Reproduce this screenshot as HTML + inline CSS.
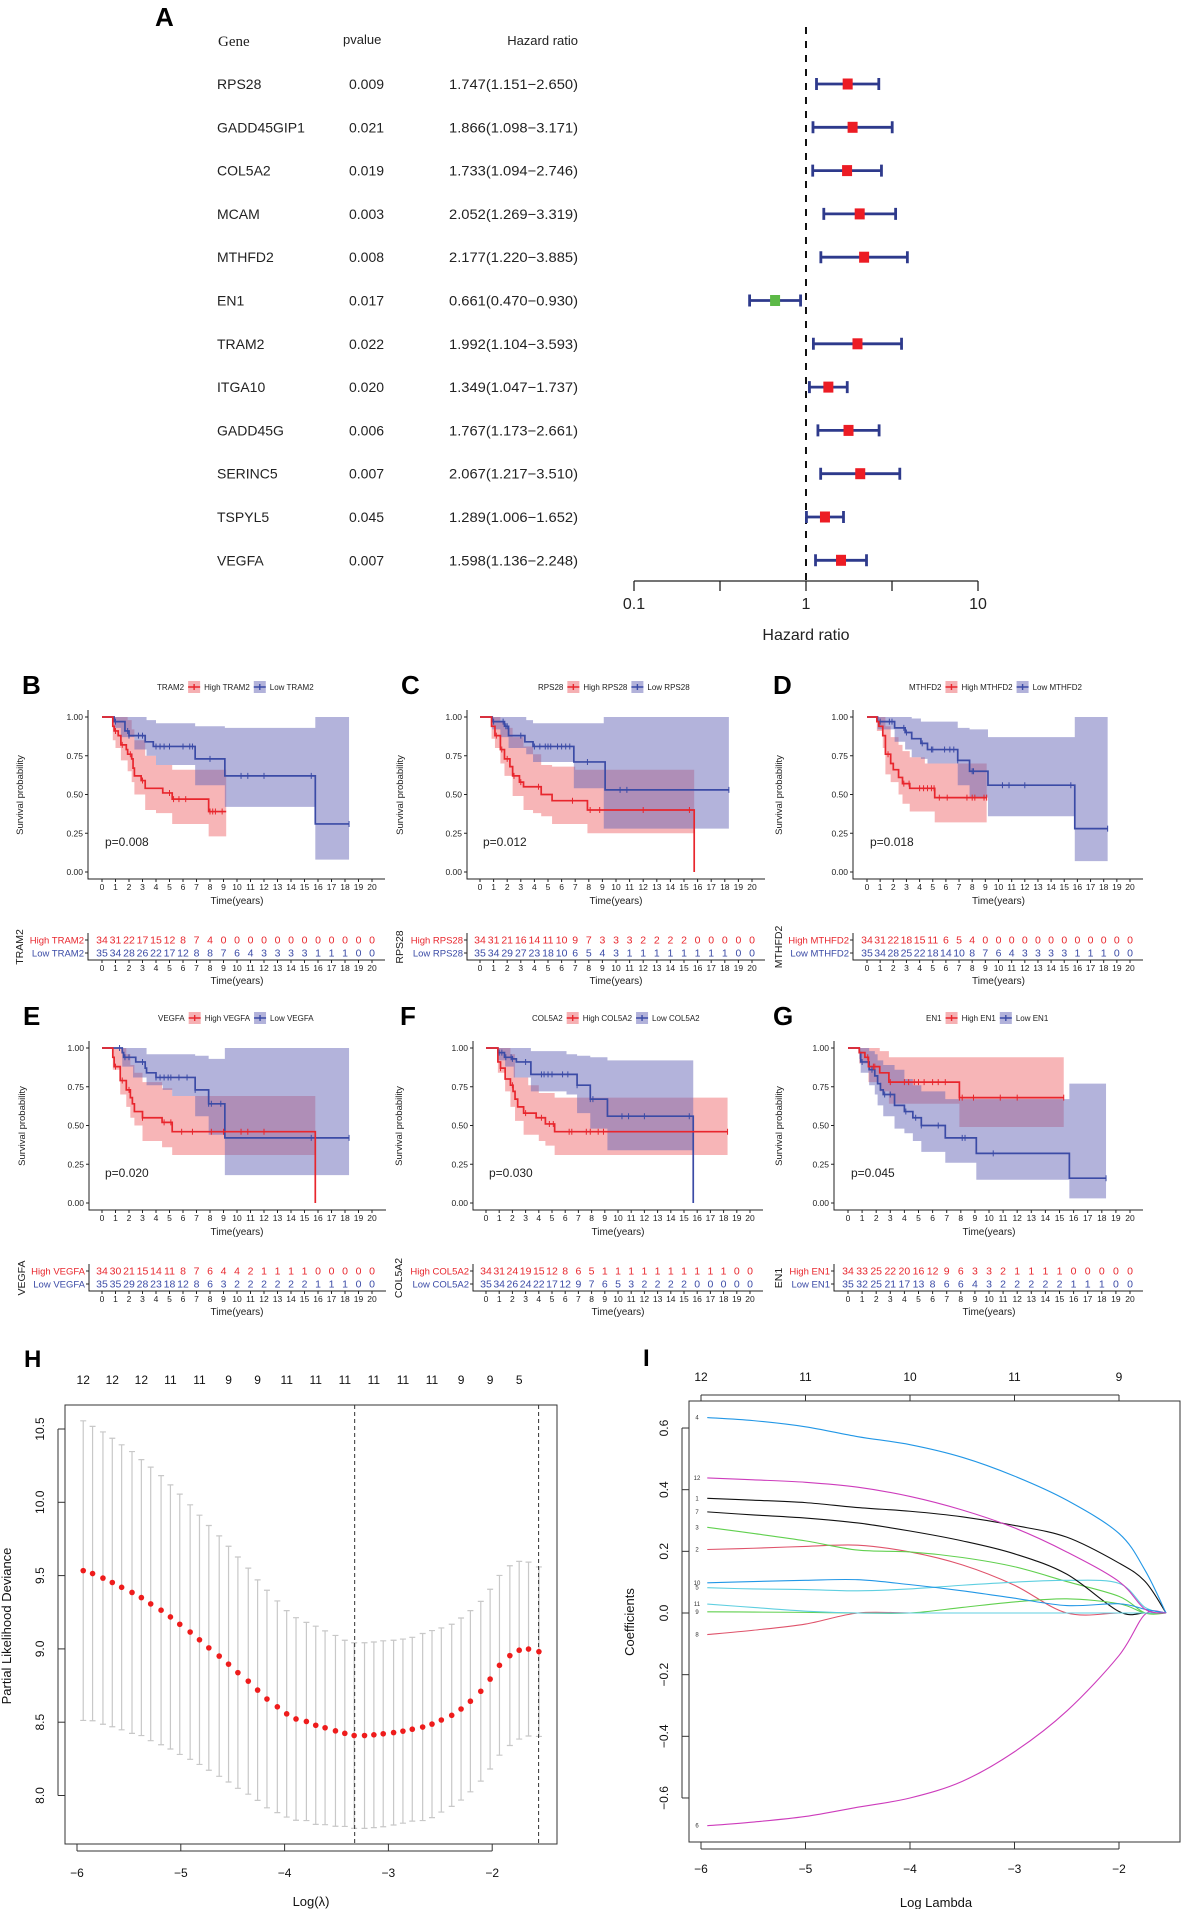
<!DOCTYPE html>
<html><head><meta charset="utf-8">
<style>
html,body{margin:0;padding:0;background:#fff;}
svg{display:block;font-family:"Liberation Sans",sans-serif;}
</style></head>
<body>
<svg id="fig" width="1181" height="1909" viewBox="0 0 1181 1909" xmlns="http://www.w3.org/2000/svg">
<rect width="1181" height="1909" fill="#fff"/>
<g id="panelA"></g>
<g id="kms"></g>
<g id="panelH"></g>
<g id="panelI"></g>
</svg>
<script>
// ---------- Panel A data ----------
const genes = ["RPS28","GADD45GIP1","COL5A2","MCAM","MTHFD2","EN1","TRAM2","ITGA10","GADD45G","SERINC5","TSPYL5","VEGFA"];
const pvalues = ["0.009","0.021","0.019","0.003","0.008","0.017","0.022","0.020","0.006","0.007","0.045","0.007"];
const hr = [1.747,1.866,1.733,2.052,2.177,0.661,1.992,1.349,1.767,2.067,1.289,1.598];
const hrLow = [1.151,1.098,1.094,1.269,1.220,0.470,1.104,1.047,1.173,1.217,1.006,1.136];
const hrHigh = [2.650,3.171,2.746,3.319,3.885,0.930,3.593,1.737,2.661,3.510,1.652,2.248];
const hrTicks = [0.1,1,10];

// ---------- KM data ([time, survival] change points; CI [time, lower, upper]) ----------
const B_high=[[0,1],[0.8,0.94],[0.9,0.91],[1.2,0.88],[1.4,0.82],[1.8,0.79],[1.9,0.76],[2.2,0.73],[2.3,0.67],[2.4,0.62],[2.9,0.59],[3.2,0.54],[4.5,0.51],[5.2,0.47],[7.9,0.39]];
const B_hiCI=[[0,1,1],[0.8,0.85,1],[1.0,0.80,1],[1.4,0.72,1],[1.9,0.65,0.98],[2.2,0.58,0.92],[2.4,0.50,0.85],[3.2,0.40,0.75],[4.0,0.38,0.69],[5.2,0.31,0.66],[7.9,0.23,0.66]];
const B_low=[[0,1],[0.9,0.97],[1.7,0.91],[2.0,0.88],[3.2,0.84],[3.8,0.81],[6.9,0.73],[9.1,0.62],[15.8,0.31]];
const B_loCI=[[0,1,1],[0.9,0.93,1],[1.4,0.87,1],[2.4,0.79,1],[3.3,0.75,0.98],[4.0,0.69,0.96],[6.9,0.56,0.94],[9.1,0.42,0.93],[15.8,0.08,1]];
const B_hiCens=[1.0,1.5,2.1,3.0,5.0,5.3,5.7,6.2,8.0,8.2,8.4,8.9];
const B_loCens=[1.0,1.9,2.0,2.7,3.0,4.0,4.3,4.6,5.0,6.0,6.5,6.7,8.0,10.3,10.8,12.0,15.5,18.3];
const B_riskHi=[34,31,22,17,15,12,8,7,4,0,0,0,0,0,0,0,0,0,0,0,0];
const B_riskLo=[35,34,28,26,22,17,12,8,8,7,6,4,3,3,3,3,1,1,1,0,0];

const C_high=[[0,1],[0.85,0.94],[1.1,0.88],[1.5,0.79],[1.8,0.73],[2.2,0.68],[2.4,0.62],[2.9,0.58],[3.2,0.55],[4.5,0.50],[5.3,0.46],[7.9,0.40],[15.75,0]];
const C_hiCI=[[0,1,1],[0.85,0.86,1],[1.1,0.80,1],[1.5,0.70,0.97],[1.8,0.62,0.93],[2.4,0.49,0.87],[3.2,0.40,0.81],[3.9,0.38,0.76],[4.5,0.36,0.69],[5.3,0.31,0.68],[7.0,0.31,0.66],[7.9,0.25,0.66]];
const C_low=[[0,1],[0.9,0.97],[1.8,0.94],[2.1,0.88],[3.3,0.84],[3.9,0.81],[6.9,0.71],[9.2,0.53]];
const C_loCI=[[0,1,1],[0.9,0.92,1],[1.5,0.87,1],[2.1,0.80,1],[3.4,0.76,0.98],[3.9,0.71,0.96],[6.9,0.54,0.96],[9.1,0.28,1]];
const C_hiCens=[1.2,1.6,2.0,2.5,3.0,4.3,6.8,8.1,8.8,12.0,15.4];
const C_loCens=[1.0,1.7,1.9,2.0,3.0,4.0,4.4,4.8,5.0,5.2,5.7,6.0,6.3,6.6,7.9,10.3,10.8,18.3];
const C_riskHi=[34,31,21,16,14,11,10,9,7,3,3,3,2,2,2,2,0,0,0,0,0];
const C_riskLo=[35,34,29,27,23,18,10,6,5,4,3,1,1,1,1,1,1,1,1,0,0];

const D_high=[[0,1],[0.75,0.97],[0.9,0.94],[1.2,0.88],[1.4,0.76],[1.8,0.70],[2.0,0.66],[2.4,0.61],[2.7,0.57],[3.25,0.54],[5.15,0.48]];
const D_hiCI=[[0,1,1],[0.75,0.91,1],[1.2,0.80,1],[1.4,0.63,0.94],[1.8,0.58,0.87],[2.4,0.50,0.82],[2.7,0.44,0.78],[3.25,0.39,0.74],[4.4,0.39,0.70],[5.15,0.32,0.70]];
const D_low=[[0,1],[0.8,0.97],[2.1,0.93],[2.9,0.90],[3.4,0.86],[4.1,0.83],[4.6,0.79],[6.9,0.72],[7.8,0.65],[9.2,0.56],[15.8,0.28]];
const D_loCI=[[0,1,1],[0.8,0.92,1],[2.1,0.84,1],[2.9,0.79,1],[3.4,0.74,0.99],[4.1,0.73,0.97],[4.6,0.70,0.97],[6.9,0.56,0.93],[7.8,0.48,0.92],[9.2,0.36,0.87],[15.8,0.07,1]];
const D_hiCens=[1.6,2.8,3.2,4.0,4.3,4.6,4.9,5.1,5.5,6.1,7.6,8.0,8.2,8.9,9.1];
const D_loCens=[1.0,1.7,1.9,2.8,3.0,4.2,4.9,5.0,5.9,6.3,6.6,6.9,8.0,8.1,10.3,10.8,12.0,15.5,18.3];
const D_riskHi=[34,31,22,18,15,11,6,5,4,0,0,0,0,0,0,0,0,0,0,0,0];
const D_riskLo=[35,34,28,25,22,18,14,10,8,7,6,4,3,3,3,3,1,1,1,0,0];

const E_high=[[0,1],[0.8,0.94],[0.9,0.88],[1.35,0.79],[1.8,0.73],[2.1,0.68],[2.25,0.64],[2.4,0.59],[3.0,0.55],[4.45,0.52],[5.2,0.46],[15.8,0]];
const E_hiCI=[[0,1,1],[0.8,0.86,1],[1.35,0.70,1],[1.8,0.62,0.96],[2.1,0.55,0.89],[2.4,0.50,0.84],[3.0,0.40,0.78],[4.45,0.36,0.74],[5.2,0.31,0.69]];
const E_low=[[0,1],[1.5,0.97],[1.6,0.94],[2.5,0.91],[3.2,0.87],[3.3,0.84],[4.0,0.81],[6.9,0.73],[7.9,0.64],[9.1,0.42]];
const E_loCI=[[0,1,1],[1.5,0.88,1],[2.3,0.81,1],[3.3,0.76,0.96],[4.5,0.73,0.96],[5.2,0.69,0.96],[6.9,0.56,0.95],[7.9,0.44,0.93],[9.1,0.18,1]];
const E_hiCens=[1.0,1.5,2.0,3.0,4.6,5.1,5.9,6.7,8.1,9.0,10.3,10.8,12.0];
const E_loCens=[1.3,1.7,2.0,3.0,4.0,4.3,4.6,4.9,5.1,5.7,6.3,6.9,7.9,8.1,8.8,15.5,18.3];
const E_riskHi=[34,30,21,15,14,11,8,7,6,4,4,2,1,1,1,1,0,0,0,0,0];
const E_riskLo=[35,35,29,28,23,18,12,8,6,3,2,2,2,2,2,2,1,1,1,0,0];

const F_high=[[0,1],[0.9,0.91],[1.1,0.87],[1.45,0.80],[1.85,0.76],[2.05,0.72],[2.2,0.67],[2.4,0.62],[2.85,0.58],[3.8,0.55],[4.5,0.51],[5.2,0.46]];
const F_hiCI=[[0,1,1],[0.9,0.84,1],[1.45,0.72,1],[1.85,0.62,0.96],[2.2,0.53,0.81],[2.85,0.44,0.81],[3.2,0.44,0.76],[4.0,0.40,0.71],[4.5,0.37,0.71],[5.2,0.31,0.68]];
const F_low=[[0,1],[0.9,0.97],[1.4,0.94],[2.0,0.93],[2.3,0.91],[3.4,0.83],[6.9,0.76],[7.9,0.67],[9.2,0.56],[15.7,0]];
const F_loCI=[[0,1,1],[0.9,0.92,1],[1.45,0.88,1],[2.1,0.81,1],[3.4,0.72,0.98],[6.1,0.70,0.96],[6.9,0.58,0.95],[7.9,0.48,0.94],[9.2,0.34,0.92]];
const F_hiCens=[1.1,2.0,3.0,4.2,4.8,5.1,6.3,6.5,7.6,7.9,8.5,8.9,18.3];
const F_loCens=[1.0,1.2,1.5,1.9,2.0,3.0,4.2,4.4,4.7,5.0,5.8,6.2,6.9,7.9,8.1,10.3,10.8,12.0,15.4];
const F_riskHi=[34,31,24,19,15,12,8,6,5,1,1,1,1,1,1,1,1,1,1,0,0];
const F_riskLo=[35,34,26,24,22,17,12,9,7,6,5,3,2,2,2,2,0,0,0,0,0];

const G_high=[[0,1],[0.8,0.97],[1.2,0.94],[1.45,0.88],[2.25,0.84],[2.9,0.78],[7.9,0.68]];
const G_hiCI=[[0,1,1],[0.8,0.90,1],[1.45,0.78,1],[2.25,0.72,0.98],[2.9,0.64,0.94],[7.9,0.49,0.94]];
const G_low=[[0,1],[0.8,0.97],[0.9,0.91],[1.5,0.86],[1.9,0.82],[2.1,0.77],[2.3,0.73],[2.5,0.70],[3.3,0.63],[4.0,0.59],[4.6,0.55],[5.2,0.50],[6.9,0.42],[9.1,0.32],[15.7,0.16]];
const G_loCI=[[0,1,1],[0.8,0.93,1],[0.9,0.84,1],[1.5,0.76,0.98],[1.9,0.70,0.96],[2.1,0.63,0.92],[2.5,0.56,0.89],[3.3,0.48,0.86],[4.0,0.45,0.80],[4.6,0.40,0.76],[5.2,0.33,0.72],[6.9,0.26,0.67],[9.1,0.15,0.67],[15.7,0.03,0.77]];
const G_hiCens=[1.4,1.8,1.9,3.0,4.0,4.3,4.7,5.0,5.4,6.0,6.4,6.9,7.9,8.1,8.9,10.8,12.0,15.3];
const G_loCens=[1.0,1.7,2.6,3.0,4.1,4.8,5.2,6.4,8.1,8.3,10.3,18.3];
const G_riskHi=[34,33,25,22,20,16,12,9,6,3,3,2,1,1,1,1,0,0,0,0,0];
const G_riskLo=[35,32,25,21,17,13,8,6,6,4,3,2,2,2,2,2,1,1,1,0,0];

const kmYTicks=[0,0.25,0.5,0.75,1];
const kmXTicks=[0,1,2,3,4,5,6,7,8,9,10,11,12,13,14,15,16,17,18,19,20];

// ---------- Panel H data ----------
const hLambda=[-5.94,-5.85,-5.75,-5.66,-5.57,-5.47,-5.38,-5.29,-5.19,-5.10,-5.01,-4.91,-4.82,-4.73,-4.63,-4.54,-4.45,-4.35,-4.26,-4.17,-4.07,-3.98,-3.89,-3.79,-3.70,-3.61,-3.51,-3.42,-3.33,-3.23,-3.14,-3.05,-2.95,-2.86,-2.77,-2.67,-2.58,-2.49,-2.39,-2.30,-2.21,-2.11,-2.02,-1.93,-1.83,-1.74,-1.65,-1.55];
const hMean=[9.534,9.514,9.483,9.453,9.420,9.385,9.350,9.307,9.264,9.218,9.168,9.115,9.062,9.007,8.951,8.896,8.838,8.780,8.719,8.658,8.605,8.557,8.522,8.505,8.479,8.462,8.441,8.424,8.409,8.409,8.414,8.421,8.429,8.439,8.452,8.467,8.487,8.515,8.547,8.590,8.643,8.711,8.794,8.888,8.954,8.991,8.999,8.981];
const hUpper=[10.556,10.518,10.480,10.437,10.392,10.346,10.291,10.240,10.182,10.119,10.056,9.983,9.912,9.842,9.771,9.700,9.627,9.551,9.471,9.400,9.327,9.261,9.213,9.181,9.155,9.123,9.092,9.059,9.042,9.042,9.047,9.055,9.059,9.067,9.079,9.105,9.125,9.143,9.168,9.211,9.261,9.324,9.407,9.501,9.567,9.597,9.592,9.559];
const hTopLabels=["12","12","12","11","11","9","9","11","11","11","11","11","11","9","9","5"];
const hXTicks=[-6,-5,-4,-3,-2];
const hYTicks=[8.0,8.5,9.0,9.5,10.0,10.5];
const hVLines=[-3.325,-1.553];

// ---------- Panel I data ----------
const iLambda=[-5.94,-5.5,-5,-4.5,-4,-3.5,-3,-2.5,-2,-1.75,-1.55];
const coef1=[0.372,0.366,0.358,0.342,0.330,0.312,0.284,0.246,0.162,0.102,0];
const coef2=[0.206,0.210,0.216,0.220,0.198,0.156,0.090,0,0,0,0];
const coef3=[0.278,0.258,0.234,0.204,0.198,0.180,0.150,0.102,0.054,0,0];
const coef4=[0.634,0.624,0.604,0.572,0.546,0.505,0.444,0.366,0.258,0.138,0];
const coef5=[0.082,0.078,0.076,0.072,0.078,0.090,0.100,0.106,0.096,0.018,0];
const coef6=[-0.690,-0.678,-0.660,-0.630,-0.600,-0.546,-0.450,-0.318,-0.138,-0.004,0];
const coef7=[0.328,0.318,0.308,0.292,0.266,0.234,0.192,0.126,0.005,0,0];
const coef8=[-0.070,-0.056,-0.036,0,0,0,0,0,0,0,0];
const coef9=[0.004,0.003,0.002,0,0,0.018,0.036,0.046,0.030,0,0];
const coef10=[0.098,0.102,0.106,0.108,0.092,0.072,0.048,0.024,0.030,0.012,0];
const coef11=[0.029,0.018,0.006,0,0,0,0,0,0,0,0];
const coef12=[0.438,0.432,0.424,0.408,0.378,0.334,0.276,0.198,0.102,0.012,0];
const iTopLabels=["12","11","10","11","9"];
const iXTicks=[-6,-5,-4,-3,-2];
const iYTicks=[-0.6,-0.4,-0.2,0,0.2,0.4,0.6];

const NS="http://www.w3.org/2000/svg";
function el(tag,attrs,parent,text){const e=document.createElementNS(NS,tag);for(const k in attrs)e.setAttribute(k,attrs[k]);if(text!==undefined)e.textContent=text;parent.appendChild(e);return e;}

// ================= Panel A =================
(function(){
  const g=document.getElementById('panelA');
  const xf=v=>806+172*Math.log10(v);
  const rowY=i=>84+i*43.3;
  const nf='"Liberation Sans Narrow","Liberation Sans",sans-serif';
  let t=el('text',{x:155,y:26,'font-size':26,'font-weight':'bold'},g,'A');
  
  t=el('text',{x:218,y:46,'font-size':15,'font-family':'"Liberation Serif",serif',fill:'#222'},g,'Gene');
  
  t=el('text',{x:343,y:44,'font-size':13,'font-family':nf,fill:'#222'},g,'pvalue');
  
  t=el('text',{x:578,y:45,'font-size':13,'font-family':nf,'text-anchor':'end',fill:'#222'},g,'Hazard ratio');
  
  const dl=el('line',{x1:806,y1:27,x2:806,y2:581,stroke:'#111','stroke-width':2,'stroke-dasharray':'7,7'},g);
  
  genes.forEach((gn,i)=>{
    const y=rowY(i);
    let a=el('text',{x:217,y:y+5,'font-size':14,'font-family':nf,fill:'#222'},g,gn);
    
    a=el('text',{x:349,y:y+5,'font-size':14,'font-family':nf,fill:'#222'},g,pvalues[i]);
    
    a=el('text',{x:578,y:y+5,'font-size':14,'font-family':nf,'text-anchor':'end',fill:'#222',textLength:129,lengthAdjust:'spacingAndGlyphs'},g,hr[i].toFixed(3)+'('+hrLow[i].toFixed(3)+'\u2212'+hrHigh[i].toFixed(3)+')');
    
    const x1=xf(hrLow[i]),x2=xf(hrHigh[i]);
    a=el('path',{d:`M${x1},${y}H${x2}M${x1},${y-6}V${y+6}M${x2},${y-6}V${y+6}`,stroke:'#2e3a8c','stroke-width':2.8,fill:'none'},g);
    
    a=el('rect',{x:xf(hr[i])-5,y:y-5.5,width:10,height:11,fill:hr[i]<1?'#5cb947':'#ec1c24'},g);
    
  });
  let ax=el('path',{d:`M${xf(0.1)},581H${xf(10)}`,stroke:'#222','stroke-width':1.3},g);
  
  [0.1,Math.sqrt(0.1),1,Math.sqrt(10),10].forEach(v=>{
    const tk=el('line',{x1:xf(v),y1:581,x2:xf(v),y2:591,stroke:'#222','stroke-width':1.3},g);
    
  });
  hrTicks.forEach(v=>{
    const tl=el('text',{x:xf(v),y:609,'font-size':16,'font-family':nf,'text-anchor':'middle',fill:'#222'},g,String(v));
    
  });
  t=el('text',{x:806,y:640,'font-size':16,'font-family':nf,'text-anchor':'middle',fill:'#222'},g,'Hazard ratio');
  
})();

// ================= KM panels =================
const panels=[
 {id:'B',gene:'TRAM2',p:'0.008',axisX:88,t0:102,t20:372,right:385,yTop:717,labX:22,legX:157,ylabX:20,hi:B_high,hiEnd:9.2,hiCI:B_hiCI,lo:B_low,loEnd:18.3,loCI:B_loCI,hc:B_hiCens,lc:B_loCens,rh:B_riskHi,rl:B_riskLo},
 {id:'C',gene:'RPS28',p:'0.012',axisX:467,t0:480,t20:752,right:765,yTop:717,labX:401,legX:538,ylabX:400,hi:C_high,hiEnd:15.75,hiCI:C_hiCI,lo:C_low,loEnd:18.3,loCI:C_loCI,hc:C_hiCens,lc:C_loCens,rh:C_riskHi,rl:C_riskLo},
 {id:'D',gene:'MTHFD2',p:'0.018',axisX:853,t0:867,t20:1130,right:1143,yTop:717,labX:773,legX:909,ylabX:779,hi:D_high,hiEnd:9.1,hiCI:D_hiCI,lo:D_low,loEnd:18.3,loCI:D_loCI,hc:D_hiCens,lc:D_loCens,rh:D_riskHi,rl:D_riskLo},
 {id:'E',gene:'VEGFA',p:'0.020',axisX:89,t0:102,t20:372,right:386,yTop:1048,labX:23,legX:158,ylabX:22,hi:E_high,hiEnd:15.8,hiCI:E_hiCI,lo:E_low,loEnd:18.3,loCI:E_loCI,hc:E_hiCens,lc:E_loCens,rh:E_riskHi,rl:E_riskLo},
 {id:'F',gene:'COL5A2',p:'0.030',axisX:473,t0:486,t20:750,right:763,yTop:1048,labX:400,legX:532,ylabX:399,hi:F_high,hiEnd:18.3,hiCI:F_hiCI,lo:F_low,loEnd:15.7,loCI:F_loCI,hc:F_hiCens,lc:F_loCens,rh:F_riskHi,rl:F_riskLo},
 {id:'G',gene:'EN1',p:'0.045',axisX:834,t0:848,t20:1130,right:1143,yTop:1048,labX:773,legX:926,ylabX:779,hi:G_high,hiEnd:15.3,hiCI:G_hiCI,lo:G_low,loEnd:18.3,loCI:G_loCI,hc:G_hiCens,lc:G_loCens,rh:G_riskHi,rl:G_riskLo}
];
const RED='#e8262d',BLUE='#3b4ba6';
function stepPath(pts,end,X,Y){let d=`M${X(pts[0][0])},${Y(pts[0][1])}`;for(let i=1;i<pts.length;i++){d+=`H${X(pts[i][0])}V${Y(pts[i][1])}`;}d+=`H${X(end)}`;return d;}
function bandPath(ci,end,X,Y){let d=`M${X(ci[0][0])},${Y(ci[0][2])}`;for(let i=1;i<ci.length;i++){d+=`H${X(ci[i][0])}V${Y(ci[i][2])}`;}d+=`H${X(end)}V${Y(ci[ci.length-1][1])}`;for(let i=ci.length-1;i>0;i--){d+=`H${X(ci[i][0])}V${Y(ci[i-1][1])}`;}d+=`H${X(ci[0][0])}Z`;return d;}
function valAt(pts,t){let v=pts[0][1];for(const p of pts){if(p[0]<=t)v=p[1];}return v;}
const kmRoot=document.getElementById('kms');
panels.forEach(P=>{
  const g=el('g',{},kmRoot);
  
  
  const X=t=>P.t0+(P.t20-P.t0)*t/20;
  const Y=s=>P.yTop+(1-s)*155;
  const yT=P.yTop;
  let t=el('text',{x:P.labX,y:yT-23,'font-size':26,'font-weight':'bold'},g,P.id);
  
  const lg=el('g',{'font-size':8,fill:'#222'},g);
  
  let lx=P.legX;const ly=yT-30;
  t=el('text',{x:lx,y:ly+3},lg,P.gene);
  lx+=t.getComputedTextLength()+4;
  [[RED,'#f5b0b3','High '+P.gene],[BLUE,'#b2b2da','Low '+P.gene]].forEach(([c,f,lab])=>{
    const sw=el('g',{},lg);
    
    el('rect',{x:lx,y:ly-6,width:12,height:12,fill:f},sw);
    el('path',{d:`M${lx},${ly}H${lx+12}M${lx+6},${ly-3}V${ly+3}`,stroke:c,'stroke-width':1.4},sw);
    const tt=el('text',{x:lx+16,y:ly+3},sw,lab);
    lx+=16+tt.getComputedTextLength()+4;
  });
  let b=el('path',{d:bandPath(P.hiCI,P.hiEnd,X,Y),fill:'#ef6b70','fill-opacity':0.5},g);
  
  b=el('path',{d:bandPath(P.loCI,P.loEnd,X,Y),fill:'#6868b8','fill-opacity':0.5},g);
  
  let c=el('path',{d:stepPath(P.lo,P.loEnd,X,Y),fill:'none',stroke:BLUE,'stroke-width':1.7},g);
  
  c=el('path',{d:stepPath(P.hi,P.hiEnd,X,Y),fill:'none',stroke:RED,'stroke-width':1.7},g);
  
  let cd='';P.lc.forEach(tm=>{const x=X(tm),y=Y(valAt(P.lo,tm));cd+=`M${x},${y-3}V${y+3}`;});
  c=el('path',{d:cd,stroke:BLUE,'stroke-width':1,fill:'none'},g);
  cd='';P.hc.forEach(tm=>{const x=X(tm),y=Y(valAt(P.hi,tm));cd+=`M${x},${y-3}V${y+3}`;});
  c=el('path',{d:cd,stroke:RED,'stroke-width':1,fill:'none'},g);
  let a=el('path',{d:`M${P.axisX},${yT-7}V${yT+162}H${P.right}`,stroke:'#222','stroke-width':1,fill:'none'},g);
  
  kmYTicks.forEach(v=>{
    el('line',{x1:P.axisX-3,x2:P.axisX,y1:Y(v),y2:Y(v),stroke:'#222','stroke-width':1},g);
    const tl=el('text',{x:P.axisX-5,y:Y(v)+3,'font-size':8.5,'text-anchor':'end',fill:'#222'},g,v.toFixed(2));
    
  });
  kmXTicks.forEach(v=>{
    el('line',{x1:X(v),x2:X(v),y1:yT+162,y2:yT+165,stroke:'#222','stroke-width':1},g);
    const tl=el('text',{x:X(v),y:yT+173,'font-size':8.5,'text-anchor':'middle',fill:'#222'},g,String(v));
    
  });
  t=el('text',{x:(P.t0+P.t20)/2,y:yT+187,'font-size':10,'text-anchor':'middle',fill:'#222'},g,'Time(years)');
  
  t=el('text',{x:0,y:0,'font-size':9.5,'text-anchor':'middle',fill:'#222',transform:`translate(${P.ylabX+3},${yT+78}) rotate(-90)`},g,'Survival probability');
  
  t=el('text',{x:P.t0+3,y:yT+129,'font-size':12,fill:'#222'},g,'p='+P.p);
  
  const rg=el('g',{},g);
  el('path',{d:`M${P.axisX},${yT+216}V${yT+243}H${P.right}`,stroke:'#222','stroke-width':1,fill:'none'},rg);
  [[yT+223,RED,'High '+P.gene,P.rh],[yT+236,BLUE,'Low '+P.gene,P.rl]].forEach(([ry,col,lab,arr])=>{
    const l=el('text',{x:P.axisX-4,y:ry+3.5,'font-size':9.5,'text-anchor':'end',fill:col},rg,lab);
    
    el('line',{x1:P.axisX-3,x2:P.axisX,y1:ry,y2:ry,stroke:'#222'},rg);
    arr.forEach((n,i)=>{
      const nt=el('text',{x:X(kmXTicks[i]),y:ry+3.5,'font-size':10.5,'text-anchor':'middle',fill:col},rg,String(n));
      
    });
  });
  kmXTicks.forEach(v=>{
    el('line',{x1:X(v),x2:X(v),y1:yT+243,y2:yT+246,stroke:'#222'},rg);
    const tl=el('text',{x:X(v),y:yT+254,'font-size':8.5,'text-anchor':'middle',fill:'#222'},rg,String(v));
    
  });
  t=el('text',{x:(P.t0+P.t20)/2,y:yT+267,'font-size':10,'text-anchor':'middle',fill:'#222'},rg,'Time(years)');
  
  t=el('text',{x:0,y:0,'font-size':10.5,'text-anchor':'middle',fill:'#222',transform:`translate(${P.ylabX+3},${yT+230}) rotate(-90)`},rg,P.gene);
  
});

// ================= Panel H =================
(function(){
  const g=document.getElementById('panelH');
  const X=l=>77+(l+6)*103.8;
  const Y=v=>1429+(10.5-v)*146.6;
  let t=el('text',{x:24,y:1367,'font-size':24,'font-weight':'bold'},g,'H');
  
  let r=el('rect',{x:65,y:1405,width:492,height:439,fill:'none',stroke:'#333','stroke-width':1},g);
  
  hLambda.forEach((l,i)=>{
    const x=X(l),up=hUpper[i],lo=2*hMean[i]-hUpper[i];
    const e=el('path',{d:`M${x},${Y(up)}V${Y(lo)}M${x-3},${Y(up)}H${x+3}M${x-3},${Y(lo)}H${x+3}`,stroke:'#c8c8c8','stroke-width':1.2,fill:'none'},g);
    
  });
  hVLines.forEach(l=>{const v=el('line',{x1:X(l),x2:X(l),y1:1405,y2:1844,stroke:'#333','stroke-width':1,'stroke-dasharray':'4,3'},g);
    });
  hLambda.forEach((l,i)=>{
    const d=el('circle',{cx:X(l),cy:Y(hMean[i]),r:2.8,fill:'#ee1c1c'},g);
    
  });
  hTopLabels.forEach((s,i)=>{
    const tl=el('text',{x:X(hLambda[i*3]),y:1384,'font-size':12,'text-anchor':'middle',fill:'#111'},g,s);
    
  });
  hXTicks.forEach(v=>{
    el('line',{x1:X(v),x2:X(v),y1:1844,y2:1851,stroke:'#333'},g);
    const tl=el('text',{x:X(v),y:1877,'font-size':12,'text-anchor':'middle',fill:'#111'},g,'\u2212'+Math.abs(v));
    
  });
  el('line',{x1:X(-6),x2:X(-2),y1:1851,y2:1851,stroke:'#333'},g);
  hYTicks.forEach(v=>{
    el('line',{x1:58,x2:65,y1:Y(v),y2:Y(v),stroke:'#333'},g);
    const tl=el('text',{x:0,y:0,'font-size':12,'text-anchor':'middle',fill:'#111',transform:`translate(44,${Y(v)}) rotate(-90)`},g,v.toFixed(1));
    
  });
  el('line',{x1:58,x2:58,y1:Y(8),y2:Y(10.5),stroke:'#333'},g);
  t=el('text',{x:311,y:1906,'font-size':13,'text-anchor':'middle',fill:'#111'},g,'Log(\u03bb)');
  
  t=el('text',{x:0,y:0,'font-size':13,'text-anchor':'middle',fill:'#111',transform:'translate(11,1626) rotate(-90)'},g,'Partial Likelihood Deviance');
  
})();

// ================= Panel I =================
(function(){
  const g=document.getElementById('panelI');
  const X=l=>701+(l+6)*104.5;
  const Y=c=>1613-c*308.3;
  let t=el('text',{x:643,y:1366,'font-size':24,'font-weight':'bold'},g,'I');
  
  let r=el('rect',{x:689,y:1401,width:491,height:441,fill:'none',stroke:'#333','stroke-width':1},g);
  
  const coefs=[coef1,coef2,coef3,coef4,coef5,coef6,coef7,coef8,coef9,coef10,coef11,coef12];
  const cols=['#111111','#df536b','#61d04f','#2297e6','#5fcfe0','#cd3cbc'];
  function smooth(pts){let d=`M${pts[0][0]},${pts[0][1]}`;for(let i=0;i<pts.length-1;i++){const p0=pts[Math.max(0,i-1)],p1=pts[i],p2=pts[i+1],p3=pts[Math.min(pts.length-1,i+2)];
    const c1x=p1[0]+(p2[0]-p0[0])/6,c1y=p1[1]+(p2[1]-p0[1])/6,c2x=p2[0]-(p3[0]-p1[0])/6,c2y=p2[1]-(p3[1]-p1[1])/6;d+=`C${c1x},${c1y} ${c2x},${c2y} ${p2[0]},${p2[1]}`;}return d;}
  coefs.forEach((arr,k)=>{
    const pts=arr.map((v,i)=>[X(iLambda[i]),Y(v)]);
    const p=el('path',{d:smooth(pts),fill:'none',stroke:cols[k%6],'stroke-width':1.1},g);
    
    const lb=el('text',{x:697,y:Y(arr[0])+2,'font-size':6,'text-anchor':'middle',fill:'#333'},g,String(k+1));
    
  });
  iTopLabels.forEach((s,i)=>{
    el('line',{x1:X(iXTicks[i]),x2:X(iXTicks[i]),y1:1395,y2:1401,stroke:'#333'},g);
    const tl=el('text',{x:X(iXTicks[i]),y:1381,'font-size':12,'text-anchor':'middle',fill:'#111'},g,s);
    
  });
  el('line',{x1:X(-6),x2:X(-2),y1:1395,y2:1395,stroke:'#333'},g);
  iXTicks.forEach(v=>{
    el('line',{x1:X(v),x2:X(v),y1:1842,y2:1849,stroke:'#333'},g);
    const tl=el('text',{x:X(v),y:1873,'font-size':12,'text-anchor':'middle',fill:'#111'},g,'\u2212'+Math.abs(v));
    
  });
  el('line',{x1:X(-6),x2:X(-2),y1:1849,y2:1849,stroke:'#333'},g);
  iYTicks.forEach(v=>{
    el('line',{x1:682,x2:689,y1:Y(v),y2:Y(v),stroke:'#333'},g);
    const lab=v===0?'0.0':(v<0?'\u2212'+Math.abs(v).toFixed(1):v.toFixed(1));
    const tl=el('text',{x:0,y:0,'font-size':12,'text-anchor':'middle',fill:'#111',transform:`translate(668,${Y(v)}) rotate(-90)`},g,lab);
    
  });
  el('line',{x1:682,x2:682,y1:Y(-0.6),y2:Y(0.6),stroke:'#333'},g);
  t=el('text',{x:936,y:1907,'font-size':13,'text-anchor':'middle',fill:'#111'},g,'Log Lambda');
  
  t=el('text',{x:0,y:0,'font-size':13,'text-anchor':'middle',fill:'#111',transform:'translate(634,1622) rotate(-90)'},g,'Coefficients');
  
})();
</script>
</body></html>
